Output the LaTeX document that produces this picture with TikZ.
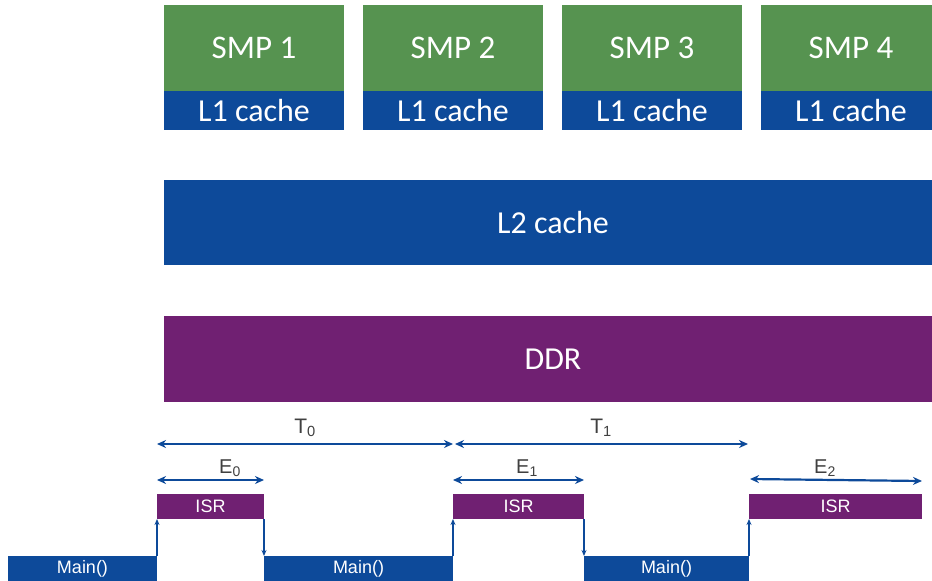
\documentclass[tikz,border=0pt]{standalone}
\usepackage{fontspec}
\setmainfont{Carlito}
\newfontfamily\arialfont{Liberation Sans}
\usetikzlibrary{arrows.meta,positioning}
\definecolor{smpcol}{RGB}{86,147,80}
\definecolor{cachecol}{RGB}{13,74,154}
\definecolor{ddrcol}{RGB}{112,32,114}
\definecolor{labcol}{RGB}{64,64,64}
\tikzset{
  % memory / core block
  membox/.style={rectangle, fill=#1, text=white, inner sep=0pt, outer sep=0pt, anchor=north west,
                 font=\fontsize{32}{36}\selectfont},
  membox/.default={cachecol},
  % timeline task block
  taskbox/.style={rectangle, fill=#1, text=white, inner sep=0pt, outer sep=0pt, anchor=north west,
                  minimum height=25pt, font=\arialfont\fontsize{18}{20}\selectfont},
  taskbox/.default={cachecol},
  % context switch arrow
  switcharrow/.style={-{Stealth[length=6pt,width=5pt]}, cachecol, line width=1.8pt},
  % period / execution span arrow
  spanarrow/.style={{Stealth[length=9pt,width=8pt]}-{Stealth[length=9pt,width=8pt]}, cachecol, line width=2.2pt},
  % span label
  spanlabel/.style={text=labcol, inner sep=0pt, font=\arialfont\fontsize{21}{24}\selectfont},
}
\begin{document}
\begin{tikzpicture}[x=1pt, y=-1pt]
  \clip (0,0) rectangle (932,581);
  % cores with their L1 caches
  \foreach \i/\x in {1/164,2/363,3/562,4/761}{
    \node[membox=smpcol, minimum width=180pt, minimum height=86pt, font=\fontsize{33}{36}\selectfont]
      (smp\i) at (\x,5) {SMP \i};
    \node[membox, minimum width=180pt, minimum height=39pt, anchor=north] (lone\i) at (smp\i.south) {L1 cache};
  }
  \node[membox, minimum width=778pt, minimum height=85pt] (ltwo) at (164,180) {L2 cache};
  \node[membox=ddrcol, minimum width=778pt, minimum height=86pt] (ddr) at (164,316) {DDR};

  % timeline
  \node[taskbox, minimum width=149pt] (main1) at (8,556) {Main()};
  \node[taskbox=ddrcol, minimum width=107pt] (isr1) at (157,494) {ISR};
  \node[taskbox, minimum width=189pt] (main2) at (264,556) {Main()};
  \node[taskbox=ddrcol, minimum width=131pt] (isr2) at (453,494) {ISR};
  \node[taskbox, minimum width=165pt] (main3) at (584,556) {Main()};
  \node[taskbox=ddrcol, minimum width=173pt] (isr3) at (749,494) {ISR};

  \draw[switcharrow] (main1.north east) -- (isr1.south west);
  \draw[switcharrow] (isr1.south east) -- (main2.north west);
  \draw[switcharrow] (main2.north east) -- (isr2.south west);
  \draw[switcharrow] (isr2.south east) -- (main3.north west);
  \draw[switcharrow] (main3.north east) -- (isr3.south west);

  % periods
  \coordinate (tzeroa) at (157,444);
  \coordinate (tzerob) at (453,444);
  \coordinate (tonea) at (455,444);
  \coordinate (toneb) at (748,444);
  \draw[spanarrow] (tzeroa) -- (tzerob);
  \draw[spanarrow] (tonea) -- (toneb);
  \node[spanlabel] (tzero) at (305,428) {T\textsubscript{0}};
  \node[spanlabel] (tone) at (601,428) {T\textsubscript{1}};

  % execution times
  \coordinate (ezeroa) at (157,480);
  \coordinate (ezerob) at (264,480);
  \coordinate (eonea) at (453,480);
  \coordinate (eoneb) at (584,480);
  \coordinate (etwoa) at (750,479);
  \coordinate (etwob) at (922,481);
  \draw[spanarrow] (ezeroa) -- (ezerob);
  \draw[spanarrow] (eonea) -- (eoneb);
  \draw[spanarrow] (etwoa) -- (etwob);
  \node[spanlabel, font=\arialfont\fontsize{20}{24}\selectfont] (ezero) at (230,468) {E\textsubscript{0}};
  \node[spanlabel, font=\arialfont\fontsize{20}{24}\selectfont] (eone) at (527,468) {E\textsubscript{1}};
  \node[spanlabel, font=\arialfont\fontsize{20}{24}\selectfont] (etwo) at (825,468) {E\textsubscript{2}};
\end{tikzpicture}
\end{document}
